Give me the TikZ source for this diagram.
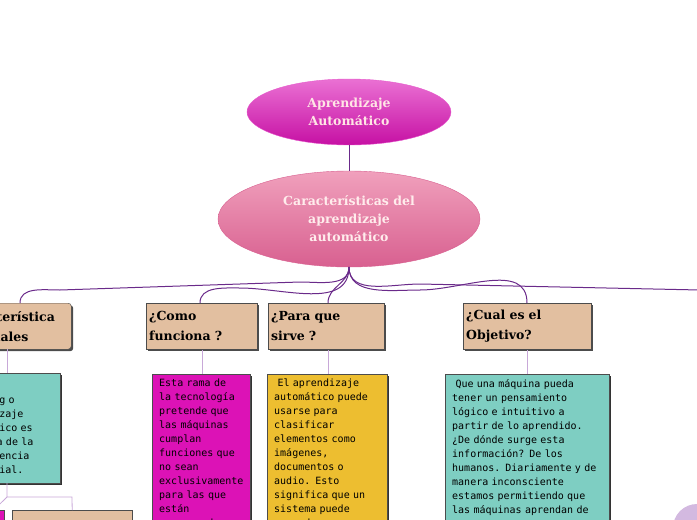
\documentclass[tikz,border=0pt]{standalone}
\usepackage{fontspec}
\setmainfont{DejaVu Serif}
\newfontfamily\bodyf{DejaVu Sans Mono}
\usetikzlibrary{shapes.geometric,shadows}
\definecolor{tanc}{HTML}{E2BFA0}
\definecolor{tealc}{HTML}{7ECEC2}
\definecolor{magc}{HTML}{DC12B6}
\definecolor{yelc}{HTML}{EDBE30}
\definecolor{linec}{HTML}{6A2A8A}
\definecolor{lavc}{HTML}{C8A8D8}
\definecolor{pinktop}{HTML}{F0A0BC}
\definecolor{pinkbot}{HTML}{D86090}
\tikzset{
 head/.style={draw=black!70,fill=tanc,minimum height=46pt,inner sep=3pt,text width=#1,align=left,anchor=north west,font=\bfseries\fontsize{12.5}{20}\selectfont,drop shadow={shadow xshift=2pt,shadow yshift=-2pt,fill=black!70,opacity=1}},
 body/.style={draw=black!70,anchor=north west,inner xsep=7pt,inner ysep=5pt,align=left,font=\bodyf\fontsize{10}{14}\selectfont,drop shadow={shadow xshift=2pt,shadow yshift=-2pt,fill=black!80,opacity=1}},
 conn/.style={draw=linec,line width=1pt},
 sub/.style={draw=lavc,line width=0.8pt}
}
\begin{document}
\begin{tikzpicture}[x=1pt,y=-1pt]
\useasboundingbox (0,0) rectangle (697,520);
\clip (0,0) rectangle (697,520);
\node[ellipse,minimum width=204pt,minimum height=66pt,top color=magc!60!white,bottom color=magc!90!black,draw=magc!70,text=pink!40!white,font=\bfseries\fontsize{12.5}{18}\selectfont,align=center] (a) at (349,112) {Aprendizaje\\Automático};
\node[ellipse,minimum width=262pt,minimum height=96pt,top color=pinktop,bottom color=pinkbot,draw=pinkbot,text=pink!30!white,font=\bfseries\fontsize{12.5}{18}\selectfont,align=center] (b) at (349,219) {Características del\\aprendizaje\\automático};
\draw[conn] (a) -- (b);
\coordinate (hub) at (349,267);
% heads
\node[head=112pt,rounded corners=3pt] (h1) at (-47,303) {Característica\\esenciales};
\node[head=105pt] (h2) at (146,303) {¿Como\\funciona ?};
\node[head=110pt] (h3) at (268,303) {¿Para que\\sirve ?};
\node[head=122pt] (h4) at (463,303) {¿Cual es el\\Objetivo?};
\coordinate (re) at (700,290);
\draw[conn] (hub) to[out=-90,in=0] (300,282) -- (60,290) to[out=180,in=90] (20,303);
\draw[conn] (hub) to[out=-90,in=0] (240,288) to[out=180,in=90] (200,303);
\draw[conn] (hub) to[out=-90,in=90] (328,303);
\draw[conn] (hub) to[out=-90,in=180] (420,290) to[out=0,in=90] (527,303);
\draw[conn] (hub) to[out=-90,in=180] (420,284) -- (re);
% bodies
\node[body,fill=tealc,minimum height=110pt,text width=96pt] (t1) at (-50,373) {Machine\\Learning o\\aprendizaje\\automático es\\una rama de la\\inteligencia\\artificial.};
\node[body,fill=magc,text width=84pt] (t2) at (152,374) {Esta rama de\\la tecnología\\pretende que\\las máquinas\\cumplan\\funciones que\\no sean\\exclusivamente\\para las que\\están\\programadas.};
\node[body,fill=yelc,text width=106pt] (t3) at (267,374) {\ El aprendizaje\\automático puede\\usarse para\\clasificar\\elementos como\\imágenes,\\documentos o\\audio. Esto\\significa que un\\sistema puede\\aprender.};
\node[body,fill=tealc,text width=150pt] (t4) at (445,374) {\ Que una máquina pueda\\tener un pensamiento\\lógico e intuitivo a\\partir de lo aprendido.\\¿De dónde surge esta\\información? De los\\humanos. Diariamente y de\\manera inconsciente\\estamos permitiendo que\\las máquinas aprendan de\\nosotros.};
\draw[sub] (7,349) -- (7,373);
\draw[sub] (202,350) -- (202,374);
\draw[sub] (328,350) -- (328,374);
\draw[sub] (527,350) -- (527,374);
\node[draw=black!70,fill=tanc,minimum width=120pt,minimum height=30pt,anchor=north west] (bb) at (12,510) {};
\node[draw=black!70,fill=magc,minimum width=20pt,minimum height=30pt,anchor=north east] (bm) at (4,510) {};
\draw[sub] (7,483) -- (7,497) -- (72,497) -- (bb.north);
\draw[sub] (7,497) -- (bm.north);
\fill[lavc,opacity=0.8] (697,528) circle (24pt);
\end{tikzpicture}
\end{document}
